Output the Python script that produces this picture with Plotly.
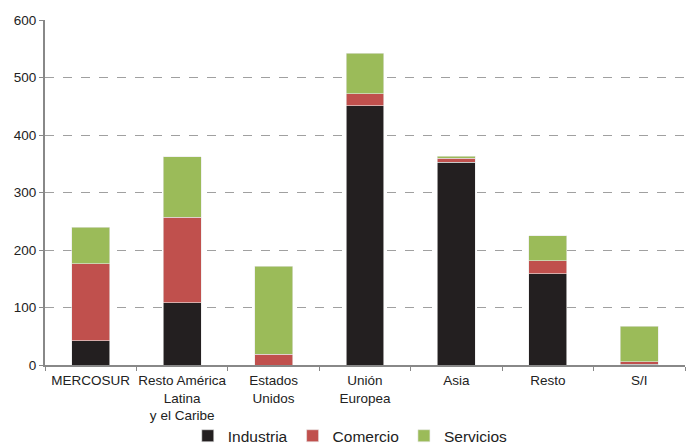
import plotly.graph_objects as go

categories = ["MERCOSUR", "Resto América<br>Latina<br>y el Caribe", "Estados<br>Unidos",
              "Unión<br>Europea", "Asia", "Resto", "S/I"]
industria = [42, 108, 0, 451, 353, 159, 1]
comercio = [134, 149, 19, 21, 7, 22, 5]
servicios = [64, 105, 153, 70, 3, 44, 61]

colors = {"Industria": "#231F20", "Comercio": "#C0504D", "Servicios": "#9BBB59"}

fig = go.Figure()
for name, vals in [("Industria", industria), ("Comercio", comercio), ("Servicios", servicios)]:
    fig.add_trace(go.Bar(x=categories, y=vals, name=name,
                         marker=dict(color=colors[name], line=dict(color="#E8E8E8", width=0.6))))

fig.update_layout(
    barmode="stack", bargap=0.585,
    width=688, height=445,
    margin=dict(l=45, r=3, t=20, b=80, autoexpand=False),
    paper_bgcolor="white", plot_bgcolor="white",
    font=dict(family="Liberation Sans, Arial, sans-serif", size=13, color="#222"),
    showlegend=True,
    legend=dict(orientation="h", x=0.477, xanchor="center", y=-0.157, yanchor="top",
                bgcolor="rgba(0,0,0,0)",
                font=dict(size=15.5), itemwidth=30, traceorder="normal", tracegroupgap=0),
)
fig.update_yaxes(range=[0, 600], dtick=100, showgrid=True, gridcolor="#A0A0A0", griddash="dash",
                 gridwidth=1, showline=True, linecolor="#888", linewidth=2, ticks="outside",
                 ticklen=4, tickcolor="#888", zeroline=False, tickfont=dict(size=13.5),
                 automargin=False)
fig.update_xaxes(showline=True, linecolor="#888", linewidth=2, ticks="outside", tickson="boundaries",
                 ticklen=4, tickcolor="#888", tickfont=dict(size=13.5), tickangle=0, automargin=False,
                 ticklabelstandoff=2)

fig.write_html("out.html")
